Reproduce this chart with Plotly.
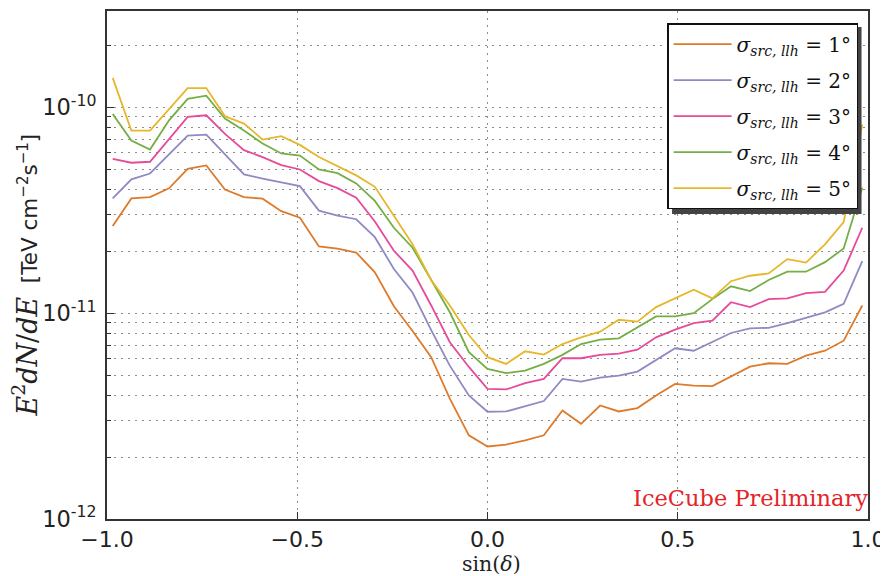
import plotly.graph_objects as go

# sin(declination) sample positions
sin_dec = [-0.985, -0.936, -0.887, -0.837, -0.788, -0.739, -0.690, -0.640, -0.591, -0.542,
           -0.493, -0.443, -0.394, -0.345, -0.296, -0.246, -0.197, -0.148, -0.099, -0.049,
           0.000, 0.049, 0.099, 0.148, 0.197, 0.246, 0.296, 0.345, 0.394, 0.443,
           0.493, 0.542, 0.591, 0.640, 0.690, 0.739, 0.788, 0.837, 0.887, 0.936, 0.985]

flux_1deg = [2.65e-11, 3.61e-11, 3.66e-11, 4.04e-11, 5.03e-11, 5.22e-11, 3.99e-11, 3.66e-11, 3.60e-11, 3.13e-11,
             2.91e-11, 2.11e-11, 2.06e-11, 1.97e-11, 1.58e-11, 1.08e-11, 8.19e-12, 6.11e-12, 3.84e-12, 2.55e-12,
             2.25e-12, 2.30e-12, 2.41e-12, 2.55e-12, 3.37e-12, 2.90e-12, 3.56e-12, 3.33e-12, 3.46e-12, 3.98e-12,
             4.53e-12, 4.45e-12, 4.42e-12, 4.94e-12, 5.50e-12, 5.71e-12, 5.67e-12, 6.22e-12, 6.57e-12, 7.35e-12,
             1.09e-11]
flux_2deg = [3.61e-11, 4.47e-11, 4.77e-11, 5.90e-11, 7.29e-11, 7.37e-11, 5.90e-11, 4.72e-11, 4.51e-11, 4.33e-11,
             4.14e-11, 3.15e-11, 2.98e-11, 2.86e-11, 2.34e-11, 1.64e-11, 1.26e-11, 8.28e-12, 5.56e-12, 3.98e-12,
             3.32e-12, 3.33e-12, 3.53e-12, 3.74e-12, 4.79e-12, 4.65e-12, 4.86e-12, 4.97e-12, 5.20e-12, 5.94e-12,
             6.75e-12, 6.57e-12, 7.27e-12, 8.01e-12, 8.44e-12, 8.49e-12, 8.95e-12, 9.54e-12, 1.01e-11, 1.11e-11,
             1.79e-11]
flux_3deg = [5.62e-11, 5.38e-11, 5.44e-11, 6.97e-11, 8.99e-11, 9.15e-11, 7.43e-11, 6.19e-11, 5.73e-11, 5.24e-11,
             4.99e-11, 4.38e-11, 4.05e-11, 3.64e-11, 2.79e-11, 2.01e-11, 1.61e-11, 1.09e-11, 7.22e-12, 5.48e-12,
             4.29e-12, 4.26e-12, 4.57e-12, 4.79e-12, 6.04e-12, 6.04e-12, 6.27e-12, 6.36e-12, 6.65e-12, 7.63e-12,
             8.32e-12, 8.95e-12, 9.19e-12, 1.13e-11, 1.07e-11, 1.17e-11, 1.18e-11, 1.25e-11, 1.27e-11, 1.61e-11,
             2.60e-11]
flux_4deg = [9.29e-11, 6.90e-11, 6.24e-11, 8.65e-11, 1.10e-10, 1.14e-10, 8.82e-11, 7.71e-11, 6.67e-11, 5.97e-11,
             5.83e-11, 4.99e-11, 4.79e-11, 4.27e-11, 3.51e-11, 2.60e-11, 2.08e-11, 1.44e-11, 1.01e-11, 6.46e-12,
             5.36e-12, 5.11e-12, 5.26e-12, 5.67e-12, 6.27e-12, 7.08e-12, 7.43e-12, 7.55e-12, 8.53e-12, 9.65e-12,
             9.65e-12, 1.00e-11, 1.17e-11, 1.35e-11, 1.28e-11, 1.45e-11, 1.59e-11, 1.59e-11, 1.77e-11, 2.06e-11,
             4.07e-11]
flux_5deg = [1.39e-10, 7.71e-11, 7.71e-11, 9.75e-11, 1.24e-10, 1.24e-10, 9.05e-11, 8.34e-11, 6.97e-11, 7.24e-11,
             6.57e-11, 5.74e-11, 5.18e-11, 4.67e-11, 4.11e-11, 2.95e-11, 2.16e-11, 1.45e-11, 1.09e-11, 7.83e-12,
             6.11e-12, 5.67e-12, 6.53e-12, 6.29e-12, 7.08e-12, 7.63e-12, 8.13e-12, 9.29e-12, 9.09e-12, 1.07e-11,
             1.18e-11, 1.30e-11, 1.18e-11, 1.43e-11, 1.52e-11, 1.56e-11, 1.83e-11, 1.76e-11, 2.16e-11, 2.77e-11,
             8.25e-11]

series_labels = ["1", "2", "3", "4", "5"]
series_values = [flux_1deg, flux_2deg, flux_3deg, flux_4deg, flux_5deg]
series_colors = ["#DD7B2C", "#8D8BC2", "#E64B98", "#74AE45", "#E6B72A"]

x_ticks = [-1.0, -0.5, 0.0, 0.5, 1.0]
x_tick_text = ["−1.0", "−0.5", "0.0", "0.5", "1.0"]
y_ticks = [1e-12, 1e-11, 1e-10]
y_tick_text = ["10<sup>-12</sup>", "10<sup>-11</sup>", "10<sup>-10</sup>"]

fig = go.Figure()
for lab, vals, col in zip(series_labels, series_values, series_colors):
    fig.add_trace(go.Scatter(
        x=sin_dec, y=vals, mode="lines",
        line=dict(color=col, width=1.8),
        name="<i>σ</i><sub><i>src, llh</i></sub> = " + lab + "°",
        legendgroup=lab,
    ))

# legend shadow
fig.add_shape(type="rect", xref="paper", yref="paper",
              x0=0.7425, x1=0.9915, y0=0.6005, y1=0.9685,
              fillcolor="#444444", line=dict(width=0), layer="above")

fig.add_annotation(text="IceCube Preliminary", xref="paper", yref="paper",
                   x=1.002, y=0.041, xanchor="right", yanchor="middle", showarrow=False,
                   font=dict(family="DejaVu Serif", size=22.5, color="#E3252A"))

fig.add_annotation(
    text="<span style='font-family:DejaVu Serif;font-size:27px'><i>E</i><sup>2</sup><i>dN</i>/<i>dE</i></span>  [TeV cm<sup>−2</sup>s<sup>−1</sup>]",
    xref="paper", yref="paper", x=-0.1085, y=0.48, xanchor="center", yanchor="middle",
    textangle=-90, showarrow=False, font=dict(family="DejaVu Sans", size=21.5, color="#222222"))

fig.add_annotation(
    text="sin(<i>δ</i>)", xref="paper", yref="paper", x=0.505, y=-0.0895,
    xanchor="center", yanchor="middle", showarrow=False,
    font=dict(family="DejaVu Serif", size=20.5, color="#222222"))

grid_col = "#8c8c8c"
# page body has an 8px margin, so the figure is 8px smaller and shifted margins compensate
fig.update_layout(
    width=880, height=568,
    margin=dict(l=99, r=20, t=3, b=56.5),
    paper_bgcolor="white", plot_bgcolor="white",
    showlegend=True,
    legend=dict(x=0.987, y=0.976, xanchor="right", yanchor="top",
                bgcolor="white", bordercolor="#111111", borderwidth=1.5,
                font=dict(family="DejaVu Serif", size=20, color="#111111"),
                tracegroupgap=7, itemwidth=58),
    xaxis=dict(range=[-1, 1], tickvals=x_ticks, ticktext=x_tick_text, automargin=False,
               showgrid=True, gridcolor=grid_col, griddash="2px,5px", gridwidth=1.2,
               showline=True, linecolor="#333333", linewidth=2, mirror=True,
               ticks="inside", ticklen=7, tickcolor="#333333",
               tickfont=dict(family="DejaVu Sans", size=22, color="#222222"),
               zeroline=False),
    yaxis=dict(type="log", range=[-12, -9.532], tickvals=y_ticks, ticktext=y_tick_text, automargin=False,
               showgrid=True, gridcolor=grid_col, griddash="2px,5px", gridwidth=1.2,
               showline=True, linecolor="#333333", linewidth=2, mirror=True,
               ticks="inside", ticklen=7, tickcolor="#333333", ticklabelstandoff=4,
               tickfont=dict(family="DejaVu Sans", size=22.5, color="#222222"),
               minor=dict(dtick="D1", showgrid=True, gridcolor=grid_col, griddash="2px,5px", gridwidth=1.2,
                          ticks="inside", ticklen=4, tickcolor="#333333"),
               zeroline=False),
)

fig.write_html("out.html")
